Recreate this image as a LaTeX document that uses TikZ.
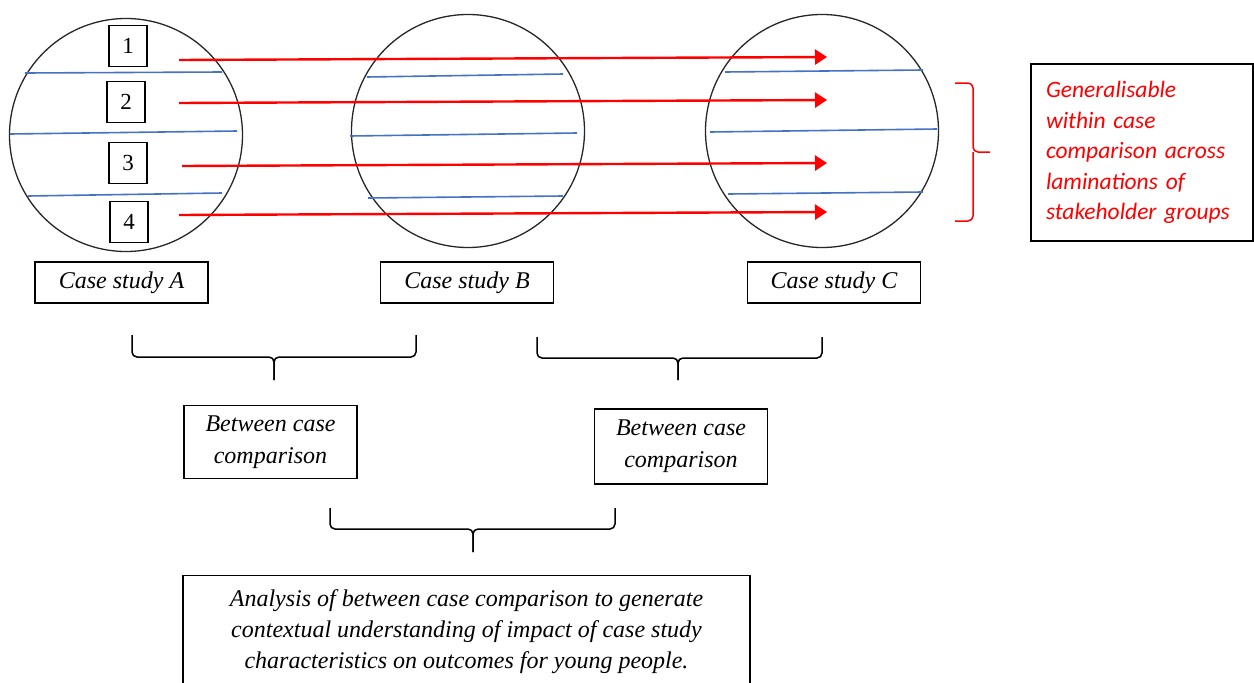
\documentclass[tikz,border=0pt]{standalone}
\usepackage{fontspec}
\setmainfont{Liberation Serif}
\newfontfamily\genfont{Carlito}
\usepackage{xcolor}
\usetikzlibrary{arrows.meta,positioning}
\definecolor{lamblue}{RGB}{68,114,196}

\begin{document}
\begin{tikzpicture}[x=1pt,y=-1pt,
    every node/.style={font=\fontsize{24}{30}\selectfont\itshape},
    casecircle/.style={circle, draw=black!85, line width=1.3pt, minimum size=233pt, inner sep=0pt},
    numbox/.style={rectangle, draw, line width=1.4pt, minimum width=38pt, minimum height=41pt, font=\fontsize{23}{26}\selectfont},
    labelbox/.style={rectangle, draw, line width=1.2pt, minimum width=173pt, minimum height=41pt},
    compbox/.style={rectangle, draw, line width=1.2pt, minimum width=173pt, minimum height=73pt, align=center,
        font=\fontsize{24}{32}\selectfont\itshape},
    lamline/.style={lamblue, line width=1.6pt},
    flow/.style={red, line width=2.4pt, -{Triangle[length=12pt,width=15pt]}},
    bracket/.style={line width=1.5pt, rounded corners=5pt}]
    \clip (0,0) rectangle (1254,683);

    % case study circles
    \node (caseA) [casecircle] at (126,135) {};
    \node (caseB) [casecircle] at (468,131) {};
    \node (caseC) [casecircle] at (822,131) {};

    % laminations
    \draw[lamline] (25,73) -- (222,72);
    \draw[lamline] (10,134) -- (237,131);
    \draw[lamline] (28,196) -- (222,193);
    \draw[lamline] (367,77) -- (563,74);
    \draw[lamline] (350,136) -- (577,133);
    \draw[lamline] (368,198) -- (563,196);
    \draw[lamline] (725,72) -- (923,70);
    \draw[lamline] (710,132) -- (937,129);
    \draw[lamline] (728,194) -- (923,192);

    % stakeholder groups
    \foreach \i/\x/\y in {1/128/46, 2/126/102, 3/128/163, 4/129/222}
        \node (n\i) [numbox] at (\x,\y) {\i};

    \foreach \i/\xs/\ys/\ye in {1/179/60/57, 2/179/103/100, 3/182/166/163, 4/179/215/212} {
        \coordinate (s\i) at (\xs,\ys);
        \coordinate (t\i) at (827,\ye);
        \draw[flow] (s\i) -- (t\i);
    }

    % within case
    \draw[red, line width=1.5pt, rounded corners=5pt] (955,83) -| (973,152) -- (990,152);
    \draw[red, line width=1.5pt, rounded corners=5pt] (955,221) -| (973,152);
    \node (gen) [rectangle, draw, line width=1.4pt, minimum width=222pt, minimum height=177pt,
        text width=192pt, inner xsep=15pt, align=left, text=red,
        font=\genfont\fontsize{23.5}{30.5}\selectfont\itshape] at (1142,152.5)
        {Generalisable\\within case\\comparison across\\laminations of\\stakeholder groups};

    % labels
    \node (labA) [labelbox] at (121.5,282.5) {Case study A};
    \node (labB) [labelbox] at (467,282.5) {Case study B};
    \node (labC) [labelbox] at (834,282.5) {Case study C};

    % between case
    \draw[bracket] (132,335) |- (274,357) -- (274,380);
    \draw[bracket] (416,335) |- (274,357) -- (274,380);
    \draw[bracket] (537,337) |- (678,358) -- (678,380);
    \draw[bracket] (822,337) |- (678,358) -- (678,380);
    \node (compAB) [compbox] at (270.5,442) {Between case\\comparison};
    \node (compBC) [compbox, minimum height=75pt] at (681,446.5) {Between case\\comparison};

    \draw[bracket] (330,508) |- (473,529) -- (473,552);
    \draw[bracket] (615,508) |- (473,529) -- (473,552);
    \node (anabox) [rectangle, draw, line width=1.2pt, minimum width=567pt, minimum height=150pt, anchor=north] at (466.5,575) {};
    \node (anatext) [below=11pt of anabox.north, align=center, font=\fontsize{24}{31}\selectfont\itshape]
        {Analysis of between case comparison to generate\\contextual understanding of impact of case study\\characteristics on outcomes for young people.};
\end{tikzpicture}
\end{document}
